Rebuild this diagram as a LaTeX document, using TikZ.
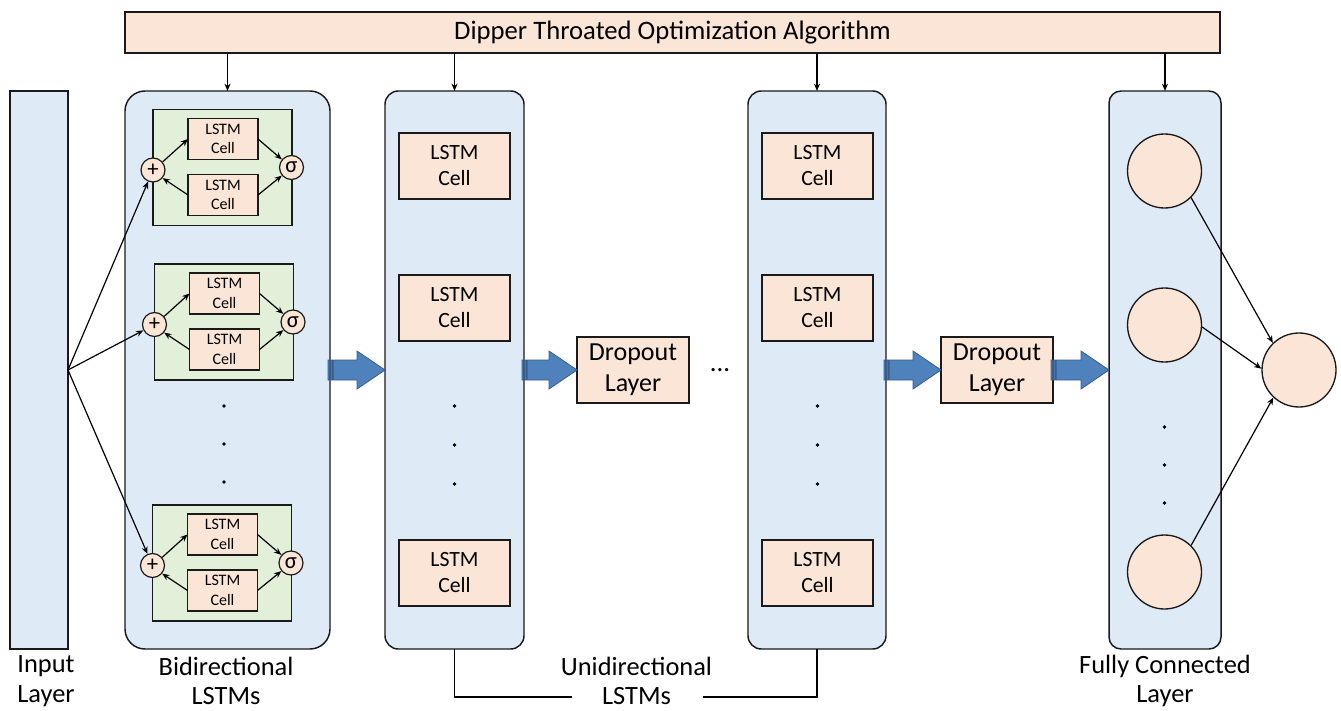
\documentclass[tikz,border=0pt]{standalone}
\usepackage{fontspec}
\setmainfont{Carlito}
\usetikzlibrary{arrows.meta,calc}
\definecolor{peach}{HTML}{FBE5D6}
\definecolor{lblue}{HTML}{DEEBF7}
\definecolor{lgreen}{HTML}{E2F0D9}
\definecolor{bfill}{HTML}{4F81BD}
\definecolor{bline}{HTML}{385D8A}
\definecolor{edge}{HTML}{1A1A1A}
\def\px{0.75pt}
\newcommand{\fatarrow}[2]{%
  \path[fatarr] let \p1=(#1), \p2=(#2) in
   (\x1-1.5pt,\y1-7.5pt) rectangle (\x1-0.4pt,\y1+7.5pt)
   (\x1+0.4pt,\y1-7.5pt) rectangle (\x1+1.6pt,\y1+7.5pt)
   (\x1+2.4pt,\y1-7.5pt) -- (\x2-21pt,\y1-7.5pt) -- (\x2-21pt,\y1-14.25pt) -- (\x2,\y1)
   -- (\x2-21pt,\y1+14.25pt) -- (\x2-21pt,\y1+7.5pt) -- (\x1+2.4pt,\y1+7.5pt) -- cycle;}
\tikzset{
  box/.style={draw=edge, line width=1.1pt, inner sep=0pt, outer sep=0pt},
  layerbox/.style={box, fill=lblue},
  peachbox/.style={box, fill=peach, align=center},
  greenbox/.style={box, fill=lgreen, minimum width=139*\px, minimum height=116*\px},
  smallcell/.style={peachbox, line width=0.9pt, minimum width=70*\px, minimum height=41*\px,
     font=\fontsize{12}{14.5}\selectfont},
  bigcell/.style={peachbox, minimum width=111*\px, minimum height=66*\px,
     font=\fontsize{16.3}{19.5}\selectfont},
  dropbox/.style={peachbox, minimum width=112*\px, minimum height=66*\px,
     font=\fontsize{19.5}{23.5}\selectfont},
  opcirc/.style={circle, draw=edge, line width=0.9pt, fill=peach, inner sep=0pt,
     minimum size=24*\px, font=\fontsize{17}{17}\selectfont},
  neuron/.style={circle, draw=edge, line width=1pt, fill=peach, inner sep=0pt, minimum size=74*\px},
  dotn/.style={circle, fill=black, inner sep=0pt, minimum size=3.8*\px},
  arr/.style={draw=black, line width=0.9pt, -{Stealth[length=5.5pt,width=4.5pt]}},
  fatarr/.style={draw=bline, fill=bfill, line width=0.6pt},
  lab/.style={align=center, font=\fontsize{19.8}{22}\selectfont, inner sep=0pt},
}
\begin{document}
\begin{tikzpicture}[x=0.75pt, y=-0.75pt]
\useasboundingbox (0,0) rectangle (1341,710);

% top bar
\node[peachbox, minimum width=1095*\px, minimum height=41*\px, font=\fontsize{20}{20}\selectfont]
  (top) at (672.5,32.5) {Dipper Throated Optimization Algorithm};

% layer blocks
\node[layerbox, minimum width=58*\px, minimum height=558*\px] (inp) at (39,370) {};
\node[layerbox, rounded corners=15pt, minimum width=205*\px, minimum height=558*\px] (bi) at (227.5,370) {};
\node[layerbox, rounded corners=10pt, minimum width=139*\px, minimum height=558*\px] (u1) at (454.5,370) {};
\node[layerbox, rounded corners=10pt, minimum width=138*\px, minimum height=558*\px] (u2) at (817,370) {};
\node[layerbox, rounded corners=9pt, minimum width=112*\px, minimum height=558*\px] (fc) at (1165,370) {};

% arrows from optimizer
\foreach \b in {bi,u1,u2,fc}{
  \draw[arr] (top.south -| \b.north) -- (\b.north);
}

% bidirectional units
\foreach \i/\cx/\cy in {1/222.5/167.5, 2/224/322, 3/222/563}{
  \node[greenbox] (g\i) at (\cx,\cy) {};
  \node[smallcell] (la\i) at (\cx+0.5,\cy-28.5) {LSTM\\Cell};
  \node[smallcell] (lb\i) at (\cx+0.5,\cy+27.5) {LSTM\\Cell};
  \node[opcirc] (p\i) at (\cx-69.5,\cy+2.5) {+};
  \node[opcirc] (s\i) at (\cx+69,\cy) {σ};
  \draw[arr] (p\i.40) -- (la\i.west);
  \draw[arr] (lb\i.west) -- (p\i.-40);
  \draw[arr] (la\i.east) -- (s\i.140);
  \draw[arr] (lb\i.east) -- (s\i.-140);
  \draw[arr] (inp.east) -- (p\i);
}
\node[dotn] (bd1) at (224,406) {};
\node[dotn] (bd2) at (224,444) {};
\node[dotn] (bd3) at (224,482) {};

% unidirectional cells
\foreach \u/\x in {u1/454.5, u2/817.5}{
  \node[bigcell] (\u c1) at (\x,166) {LSTM\\Cell};
  \node[bigcell] (\u c2) at (\x,308) {LSTM\\Cell};
  \node[bigcell] (\u c3) at (\x,573) {LSTM\\Cell};
  \node[dotn] (\u d1) at (\x,406) {};
  \node[dotn] (\u d2) at (\x,445) {};
  \node[dotn] (\u d3) at (\x,484) {};
}

% dropout
\node[dropbox] (d1) at (633,370) {Dropout\\Layer};
\node[dropbox] (d2) at (997,370) {Dropout\\Layer};
\node[font=\fontsize{20}{20}\selectfont, inner sep=0pt] (ell) at (720,370) {...};

% fat arrows
\fatarrow{bi.east}{u1.west}
\fatarrow{u1.east}{d1.west}
\fatarrow{u2.east}{d2.west}
\fatarrow{d2.east}{fc.west}

% fully connected
\node[neuron] (f1) at (1164.5,171) {};
\node[neuron] (f2) at (1164.5,325) {};
\node[neuron] (f3) at (1164.5,572) {};
\node[dotn] (fd1) at (1164.5,427) {};
\node[dotn] (fd2) at (1164.5,465) {};
\node[dotn] (fd3) at (1164.5,503) {};
\node[neuron] (out) at (1299,370) {};
\draw[arr] (f1.-45) -- (out.134);
\draw[arr] (f2.-3) -- (out.178);
\draw[arr] (f3.45) -- (out.-133);

% labels
\node[lab] (linp) at (46,681) {Input\\Layer};
\node[lab] (lbi) at (226,681) {Bidirectional\\LSTMs};
\node[lab] (luni) at (636.5,681) {Unidirectional\\LSTMs};
\node[lab] (lfc) at (1165,681) {Fully Connected\\Layer};

\coordinate (bl) at (572,697);
\coordinate (br) at (703,697);
\draw[line width=1pt] (u1.south) |- (bl);
\draw[line width=1pt] (u2.south) |- (br);
\end{tikzpicture}
\end{document}
